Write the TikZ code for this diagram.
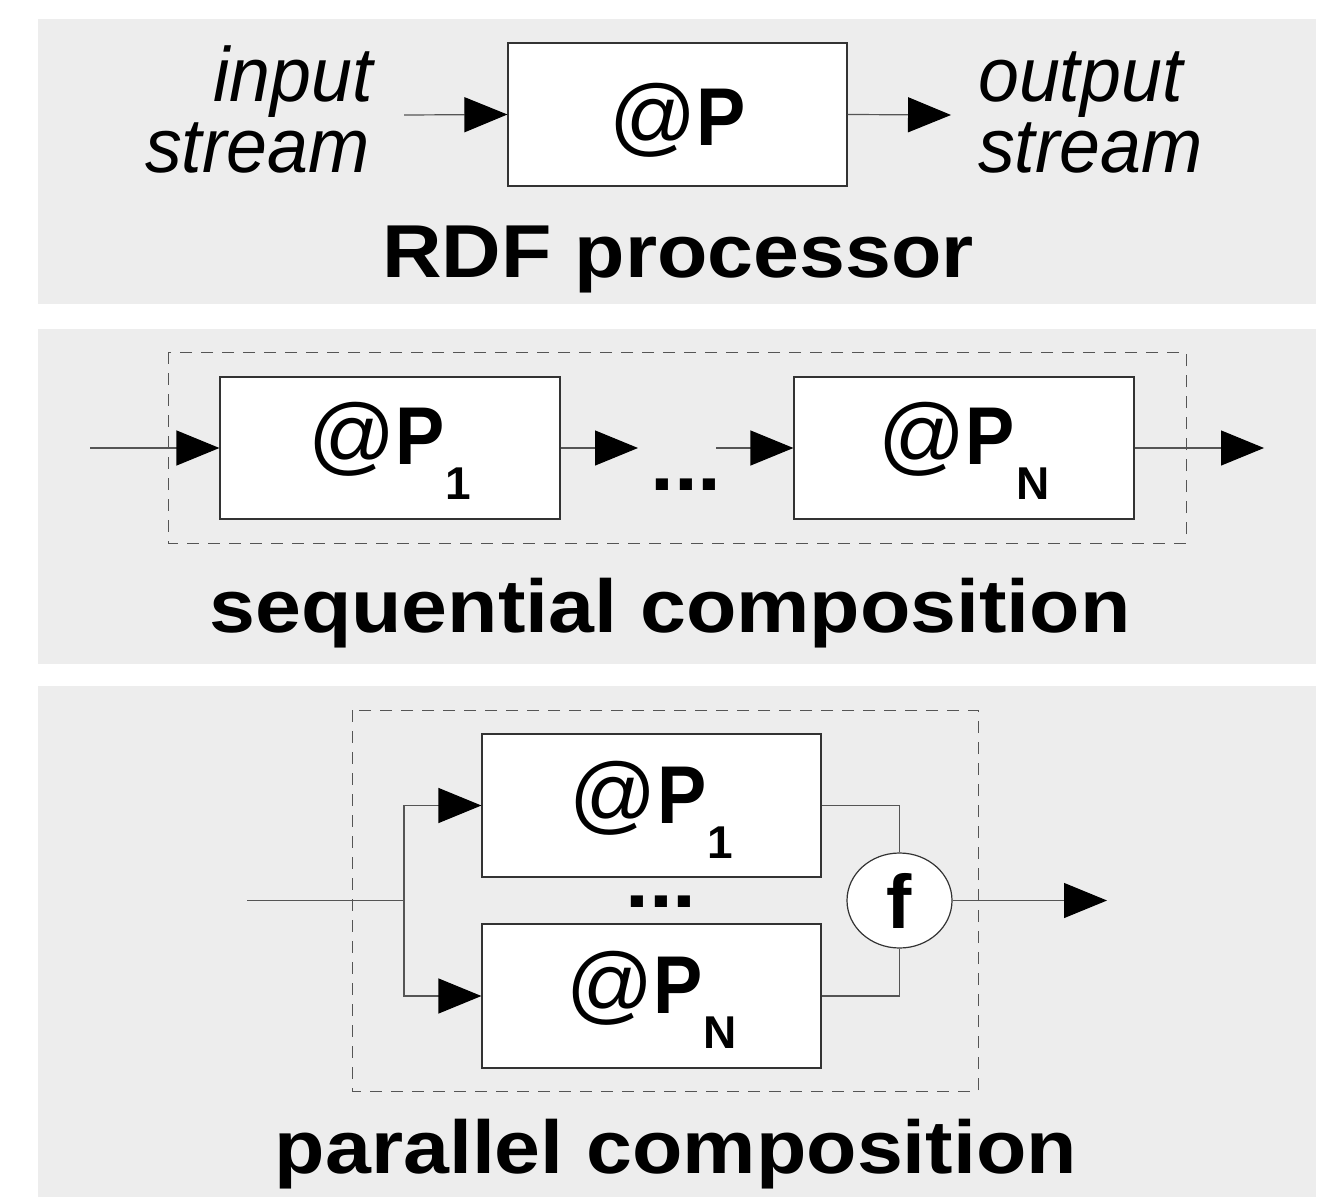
\documentclass[tikz,border=0pt]{standalone}
\usepackage{fontspec}
\setmainfont{Liberation Sans}[FakeStretch=1.10]
\newfontfamily\lblfont{Liberation Sans}
\newfontfamily\pfont{Liberation Sans}[FakeStretch=0.9]
\newfontfamily\itfont{Liberation Sans}[FakeStretch=0.955]
\usetikzlibrary{arrows.meta,shapes.geometric}
\definecolor{panelgray}{RGB}{237,237,237}
\definecolor{linegray}{RGB}{85,85,85}
\newcommand\fsz[1]{\fontsize{#1}{#1}\selectfont}
\newcommand\bigP{{\fsz{86}@}{\pfont\bfseries P}}
\newcommand\atP[1]{\bigP\kern1pt\raisebox{-35pt}{{\fsz{46}\bfseries #1}}}
\tikzset{
  panel/.style={fill=panelgray, draw=none},
  proc/.style={draw=black!80, line width=1.2pt, fill=white, inner sep=0pt,
    minimum width=339pt, minimum height=143pt, font=\lblfont\fsz{82}, text depth=0pt},
  frame/.style={draw=linegray, line width=1pt, dash pattern=on 12pt off 9pt},
  conn/.style={draw=linegray, line width=1.2pt},
  arr/.style={conn, -{Triangle[length=43pt,width=35pt,color=black]}},
  itx/.style={inner sep=0pt, font=\itfont\fsz{77}\itshape},
  itop/.style={itx, text depth=0pt},
  itbot/.style={itx, text height=40pt},
  ttl/.style={inner sep=0pt, font=\fsz{75}\bfseries, anchor=base},
  dotsty/.style={inner sep=0pt, font=\fsz{78}\bfseries, anchor=base},
  fun/.style={ellipse, draw=black!80, line width=1.2pt, fill=white, inner sep=0pt,
    minimum width=105pt, minimum height=95pt, font=\lblfont\fsz{76}\bfseries}
}
\begin{document}
\begin{tikzpicture}[x=1pt,y=-1pt]
\useasboundingbox (0,0) rectangle (1343,1198);
% panels
\fill[panel] (38,19) rectangle (1316,304);
\fill[panel] (38,329) rectangle (1316,664);
\fill[panel] (38,686) rectangle (1316,1197);

% ---- RDF processor
\node[proc, text height=63pt] (p) at (677.5,114.5) {\bigP};
\coordinate (in1) at (404,115);
\coordinate (out1) at (951,115);
\draw[arr] (in1) -- (p.west);
\draw[arr] (p.east) -- (out1);
\node[itop, anchor=base east] (inA) at (373,102) {input};
\node[itbot, anchor=base east] (inB) at (370,173) {stream};
\node[itop, anchor=base west] (outA) at (978,102) {output};
\node[itbot, anchor=base west] (outB) at (978,173) {stream};
\node[ttl] (t1) at (678,277) {RDF processor};

% ---- sequential composition
\draw[frame] (168,352) rectangle (1186,543);
\node[proc, minimum width=340pt, minimum height=142pt, text height=32pt] (s1) at (390,448) {\atP{1}};
\node[proc, minimum width=340pt, minimum height=142pt, text height=32pt] (sn) at (964,448) {\atP{N}};
\coordinate (in2) at (90,448);
\coordinate (m1) at (638,448);
\coordinate (m2) at (716,448);
\coordinate (out2) at (1264,448);
\draw[arr] (in2) -- (s1.west);
\draw[arr] (s1.east) -- (m1);
\draw[arr] (m2) -- (sn.west);
\draw[arr] (sn.east) -- (out2);
\node[dotsty] (d1) at (686,490) {...};
\node[ttl] (t2) at (670,632) {sequential composition};

% ---- parallel composition
\draw[frame] (352,710) rectangle (978,1091);
\node[proc, text height=35pt] (q1) at (651.5,805.5) {\atP{1}};
\node[proc, minimum height=144pt, text height=34pt] (qn) at (651.5,996) {\atP{N}};
\node[fun] (f) at (899.5,900.5) {f};
\coordinate (in3) at (247,900.5);
\coordinate (br) at (404,900.5);
\coordinate (out3) at (1107,900.5);
\draw[conn] (in3) -- (br);
\draw[arr] (br) |- (q1.west);
\draw[arr] (br) |- (qn.west);
\draw[conn] (q1.east) -| (f.north);
\draw[conn] (qn.east) -| (f.south);
\draw[arr] (f.east) -- (out3);
\node[dotsty] (d2) at (661,907) {...};
\node[ttl] (t3) at (676,1173) {parallel composition};
\end{tikzpicture}
\end{document}
